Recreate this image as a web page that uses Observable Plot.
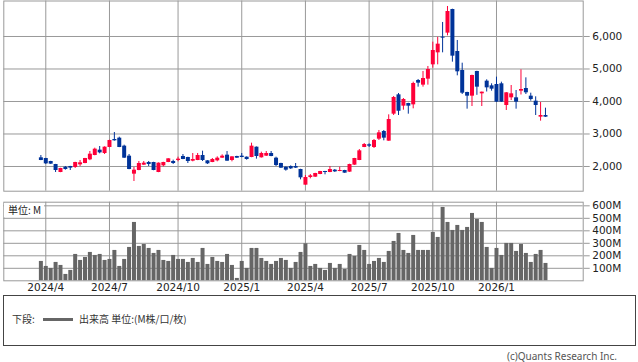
<!DOCTYPE html>
<html><head><meta charset="utf-8">
<script src="https://cdn.jsdelivr.net/npm/d3@7"></script>
<script src="https://cdn.jsdelivr.net/npm/@observablehq/plot@0.6"></script>
<style>
html,body{margin:0;padding:0;background:#fff;}
#wrap{position:relative;width:638px;height:362px;overflow:hidden;font-family:"DejaVu Sans",sans-serif;}
#price,#vol{position:absolute;left:0;}
#price{top:0;}
#vol{top:195px;}
#unit{position:absolute;left:4px;top:203px;height:14px;padding:0 3px 0 4px;background:#fff;font:10px "Noto Sans CJK JP",sans-serif;line-height:14px;color:#222;}
#legend{position:absolute;left:3px;top:295px;width:633px;height:51px;box-sizing:border-box;border:1px solid #444;font:10px "Noto Sans CJK JP",sans-serif;color:#333;}
#legend span{position:absolute;top:16px;line-height:14px;}
#legend .sw{top:22px;height:3px;width:30px;background:#666;left:39px;}
#copy{position:absolute;right:21px;top:350px;font:10px "Noto Sans",sans-serif;line-height:12px;color:#555;white-space:nowrap;}
</style></head>
<body>
<div id="wrap">
  <div id="price"></div>
  <div id="vol"></div>
  <div id="unit">単位: M</div>
  <div id="legend"><span style="left:8px">下段:</span><span class="sw"></span><span style="left:75px">出来高 単位:(M株/口/枚)</span></div>
  <div id="copy">(c)Quants Research Inc.</div>
</div>
<script>
// weekly candles, index 0 = first week shown
const open = [2267,2246,2154,2062,1815,1979,2000,1969,2051,2092,
2205,2338,2503,2400,2585,2831,2872,2626,2318,1764,
1877,2041,2123,2123,1815,2020,2123,2154,2185,2308,
2277,2164,2185,2338,2174,2123,2174,2256,2349,2185,
2308,2318,2287,2277,2595,2267,2318,2400,2256,2092,
1979,2000,2000,1908,1426,1662,1672,1754,1846,1815,
1887,1846,1877,1826,2041,2185,2585,2667,2585,2841,
3077,2779,3610,4205,3856,3938,3897,4646,4503,4687,
5128,5497,5979,6103,6830,5538,4954,4277,4164,4923,
4236,4626,4482,4523,4544,3877,4113,4113,4318,4400,
4164,4010,3518,3569];
const high = [2338,2250,2160,2065,1945,2000,2005,2130,2185,2250,
2461,2564,2615,2605,2810,3046,2902,2656,2369,1969,
2154,2154,2154,2130,2110,2130,2240,2195,2287,2369,
2285,2400,2400,2472,2180,2246,2297,2359,2461,2300,
2315,2400,2295,2718,2600,2441,2461,2461,2287,2100,
1985,2020,2092,1915,1723,1754,1790,1850,1850,2000,
1908,1979,1882,2070,2250,2523,2708,2697,2831,3108,
3108,3590,4154,4246,4092,3945,4595,4677,4923,5077,
5826,5974,6431,6923,6840,5877,5179,4285,4810,4930,
4290,4667,4544,4749,4595,4275,4492,4338,4974,4728,
4256,4144,3969,3795];
const low = [2180,2062,2065,1815,1810,1887,1877,1940,2000,2085,
2180,2330,2390,2369,2580,2780,2580,2250,1900,1538,
1870,2035,2000,1870,1810,1990,2118,2062,2144,2210,
2092,2144,2180,2154,2062,2118,2144,2250,2160,2144,
2250,2270,2195,2270,2226,2260,2310,2300,2000,1940,
1856,1908,1940,1590,1420,1620,1665,1748,1744,1810,
1815,1840,1790,1820,2035,2180,2580,2585,2554,2800,
2790,2775,3569,3569,3733,3610,3774,4441,4441,4503,
5026,5128,5497,6020,5210,4790,4215,3764,3846,4190,
3846,4292,4318,3970,3970,3723,4030,3764,4200,4215,
4010,3569,3395,3510];
const close = [2185,2082,2072,1877,1938,1908,1949,2123,2113,2246,
2379,2533,2420,2595,2800,2790,2585,2256,1908,1887,
2092,2103,2062,1877,2103,2123,2236,2092,2226,2215,
2154,2215,2338,2185,2082,2215,2256,2318,2164,2297,
2256,2277,2215,2626,2308,2400,2400,2308,2031,1949,
1887,1928,1949,1651,1662,1713,1785,1846,1815,1908,
1836,1877,1795,2062,2246,2482,2677,2626,2800,3036,
2872,3446,4123,3700,4062,3856,4554,4564,4708,4985,
5569,5764,5949,6769,5395,4913,4256,4164,4800,4441,
4287,4420,4379,3979,3979,4267,4236,3979,4369,4267,
4062,3877,3569,3518];
// volume in millions
const volume = [155,115,99,147,123,51,83,211,163,187,
227,203,211,163,171,243,115,171,267,467,
275,291,259,219,243,163,155,203,171,171,
147,179,147,259,131,187,155,147,211,123,
19,155,99,259,259,179,155,131,155,179,
163,99,147,227,296,115,131,99,83,139,
99,131,91,211,195,283,243,131,155,179,
147,235,315,379,243,219,363,243,243,243,
387,347,587,467,403,443,403,427,539,491,
467,267,99,259,203,299,299,235,291,219,
147,211,243,139];
const tickWeeks = [1,14,28,41,54,67,80,93];
const tickLabels = ["2024/4","2024/7","2024/10","2025/1","2025/4","2025/7","2025/10","2026/1"];
const priceTicks = [2000,3000,4000,5000,6000];
const volTicks = [100,200,300,400,500,600];

const UP = "#ff0039", DOWN = "#003399", GRID = "#999";
const candles = open.map((o,i) => ({i, o, h: high[i], l: low[i], c: close[i], v: volume[i]}));
const col = d => d.c >= d.o ? UP : DOWN;
const xDomain = [-7.57, 110.7];
const style = {fontFamily:"DejaVu Sans", fontSize:"10.5px", color:"#222", background:"transparent", overflow:"visible"};

const priceChart = Plot.plot({
  width:638, height:191, marginLeft:3.3, marginRight:55.3, marginTop:0.5, marginBottom:0.3,
  style,
  x:{type:"linear", domain:xDomain, axis:null},
  y:{domain:[1240,7092], axis:null},
  marks:[
    Plot.ruleY(priceTicks, {stroke:GRID}),
    Plot.ruleX(tickWeeks, {stroke:GRID}),
    Plot.frame({stroke:GRID}),
    Plot.axisY(priceTicks, {anchor:"right", label:null, tickSize:6, tickPadding:3, stroke:GRID, tickFormat:d3.format(",")}),
    Plot.ruleX(candles, {x:"i", y1:"l", y2:"h", stroke:col, strokeWidth:1}),
    Plot.ruleX(candles, {x:"i", y1:"o", y2:"c", stroke:col, strokeWidth:4})
  ]
});
document.getElementById("price").append(priceChart);

const volChart = Plot.plot({
  width:638, height:100, marginLeft:3.3, marginRight:55.3, marginTop:6.7, marginBottom:14.7,
  style,
  x:{type:"linear", domain:xDomain, axis:null},
  y:{domain:[0,629], axis:null},
  marks:[
    Plot.ruleY(volTicks, {stroke:GRID}),
    Plot.ruleX(tickWeeks, {stroke:GRID}),
    Plot.ruleX(candles, {x:"i", y1:0, y2:"v", stroke:"#666", strokeWidth:4}),
    Plot.frame({stroke:GRID}),
    Plot.axisY(volTicks, {anchor:"right", label:null, tickSize:6, tickPadding:3, stroke:GRID, tickFormat:d => d + "M"}),
    Plot.axisX(tickWeeks, {anchor:"bottom", label:null, tickSize:0, tickPadding:3, tickFormat:d => tickLabels[tickWeeks.indexOf(d)]})
  ]
});
document.getElementById("vol").append(volChart);
</script>
</body></html>
